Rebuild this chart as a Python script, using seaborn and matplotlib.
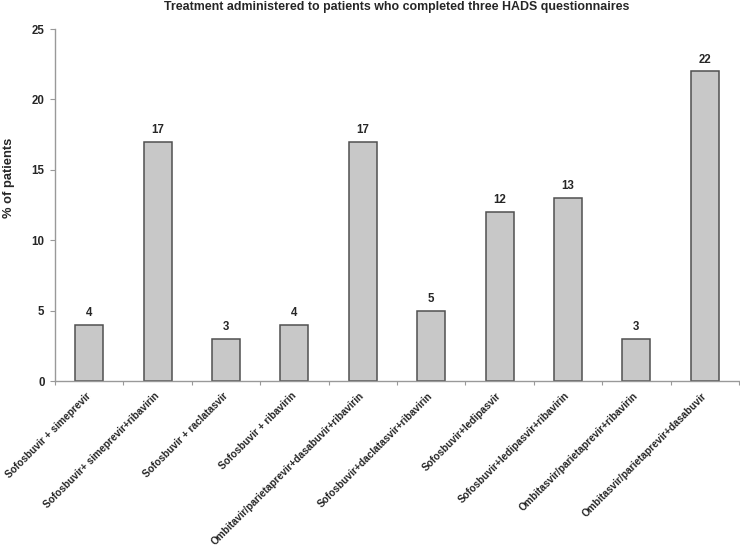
import matplotlib

matplotlib.use("Agg")

import matplotlib.pyplot as plt
import numpy as np
import pandas as pd
import seaborn as sns

treatments = [
    "Sofosbuvir + simeprevir",
    "Sofosbuvir+ simeprevir+ribavirin",
    "Sofosbuvir + raclatasvir",
    "Sofosbuvir + ribavirin",
    "Ombitavir/parietaprevir+dasabuvir+ribavirin",
    "Sofosbuvir+daclatasvir+ribavirin",
    "Sofosbuvir+ledipasvir",
    "Sofosbuvir+ledipasvir+ribavirin",
    "Ombitasvir/parietaprevir+ribavirin",
    "Ombitasvir/parietaprevir+dasabuvir",
]
percent_patients = [4, 17, 3, 4, 17, 5, 12, 13, 3, 22]
y_ticks = [0, 5, 10, 15, 20, 25]

df = pd.DataFrame({"treatment": treatments, "percent": percent_patients})

sns.set_theme(style="white")
plt.rcParams["font.family"] = ["Liberation Sans", "DejaVu Sans"]
plt.rcParams["font.weight"] = "bold"

W, H = 740, 552
fig = plt.figure(figsize=(W / 100, H / 100), dpi=100)
ax = fig.add_axes([55 / W, (H - 381) / H, (739 - 55) / W, (381 - 29) / H])

sns.barplot(
    data=df,
    x="treatment",
    y="percent",
    color="#c8c8c8",
    edgecolor="#505050",
    linewidth=1.1,
    width=0.41,
    saturation=1,
    ax=ax,
)

for i, v in enumerate(percent_patients):
    ax.text(i, v + 0.4, f"{v}", ha="center", va="bottom", fontsize=8.3, fontweight="bold")

n = len(treatments)
ax.set_xlim(-0.5, n - 0.5)
ax.set_ylim(0, 25)
ax.set_yticks(y_ticks)
ax.set_yticklabels([str(t) for t in y_ticks], fontsize=8.3, fontweight="bold")
ax.set_xticks(range(n))
ax.set_xticklabels(treatments, rotation=45, ha="right", va="center", rotation_mode="anchor",
                   fontsize=7.25, fontweight="bold")
# small ticks between categories, like the original
ax.set_xticks(np.arange(n + 1) - 0.5, minor=True)
ax.tick_params(axis="x", which="major", length=0, pad=9.5)
ax.tick_params(axis="x", which="minor", length=3, width=0.8, color="#999999", direction="out", bottom=True)
ax.tick_params(axis="y", length=3.5, width=0.8, color="#999999", direction="out", pad=4, left=True)

ax.set_xlabel("")
ax.set_ylabel("% of patients", fontsize=9.3, fontweight="bold")
ax.yaxis.set_label_coords(-0.0585, 0.577)
ax.set_title("Treatment administered to patients who completed three HADS questionnaires",
             fontsize=8.9, fontweight="bold", pad=13.5)

for side in ["top", "right"]:
    ax.spines[side].set_visible(False)
for side in ["left", "bottom"]:
    ax.spines[side].set_color("#999999")
    ax.spines[side].set_linewidth(1.0)

fig.savefig("out.png", dpi=100)
